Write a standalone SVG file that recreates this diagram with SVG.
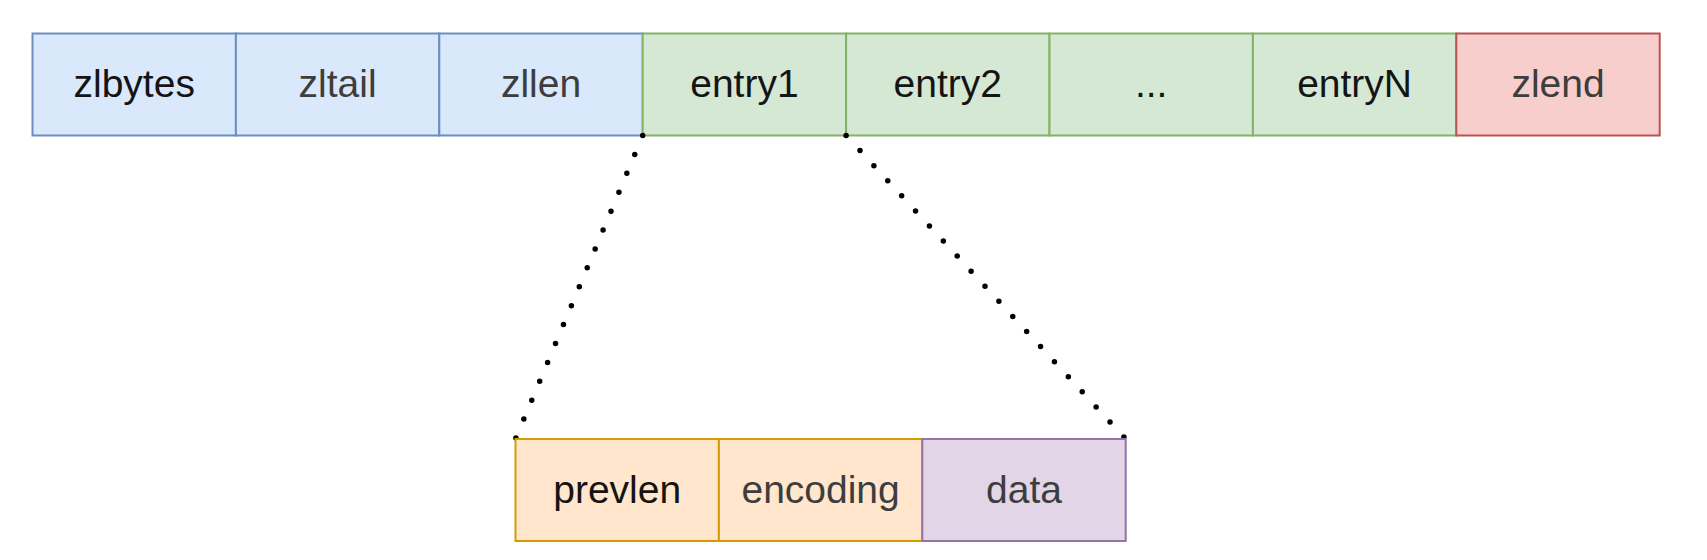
<svg xmlns="http://www.w3.org/2000/svg" width="1707" height="560" viewBox="0 0 1707 560">
<style>
.t{font-family:"Liberation Sans",Arial,Helvetica,sans-serif;font-size:39px;text-anchor:middle}
.dk{fill:#141414}
.gr{fill:#3d3d3d}
.blue{fill:#dae8fc;stroke:#6c8ebf;stroke-width:2}
.green{fill:#d5e8d4;stroke:#82b366;stroke-width:2}
.red{fill:#f8cecc;stroke:#b85450;stroke-width:2}
.orange{fill:#ffe6cc;stroke:#d79b00;stroke-width:2}
.purple{fill:#e1d5e7;stroke:#9673a6;stroke-width:2}
.dot{fill:none;stroke:#000;stroke-width:5.5;stroke-linecap:round;stroke-dasharray:0 20.5}
</style>
<rect width="1707" height="560" fill="#ffffff"/>
<g id="zlbytes"><rect class="blue" x="32.5" y="33.5" width="203.4" height="102"/><text class="t dk" x="134.2" y="97">zlbytes</text></g>
<g id="zltail"><rect class="blue" x="235.9" y="33.5" width="203.4" height="102"/><text class="t gr" x="337.6" y="97">zltail</text></g>
<g id="zllen"><rect class="blue" x="439.3" y="33.5" width="203.4" height="102"/><text class="t gr" x="541" y="97">zllen</text></g>
<g id="entry1"><rect class="green" x="642.7" y="33.5" width="203.4" height="102"/><text class="t dk" x="744.4" y="97">entry1</text></g>
<g id="entry2"><rect class="green" x="846.1" y="33.5" width="203.4" height="102"/><text class="t dk" x="947.8" y="97">entry2</text></g>
<g id="ellipsis"><rect class="green" x="1049.5" y="33.5" width="203.4" height="102"/><text class="t dk" x="1151.2" y="97">...</text></g>
<g id="entryN"><rect class="green" x="1252.9" y="33.5" width="203.4" height="102"/><text class="t dk" x="1354.6" y="97">entryN</text></g>
<g id="zlend"><rect class="red" x="1456.3" y="33.5" width="203.4" height="102"/><text class="t gr" x="1558" y="97">zlend</text></g>
<g id="connectors">
<line class="dot" x1="642.7" y1="135.5" x2="515.5" y2="439"/>
<line class="dot" x1="846.1" y1="135.5" x2="1125.7" y2="439"/>
</g>
<g id="prevlen"><rect class="orange" x="515.5" y="439" width="203.4" height="102"/><text class="t dk" x="617.2" y="503">prevlen</text></g>
<g id="encoding"><rect class="orange" x="718.9" y="439" width="203.4" height="102"/><text class="t gr" x="820.6" y="503">encoding</text></g>
<g id="data"><rect class="purple" x="922.3" y="439" width="203.4" height="102"/><text class="t gr" x="1024" y="503">data</text></g>
</svg>
